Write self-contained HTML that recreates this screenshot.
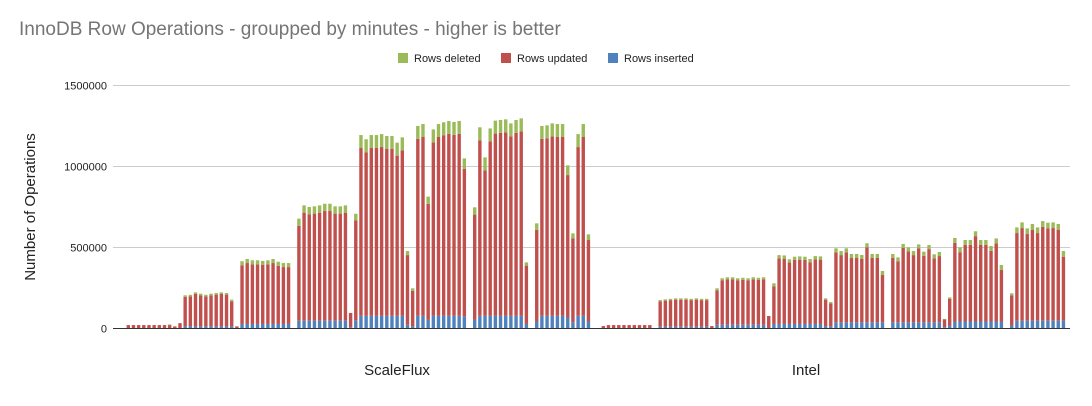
<!DOCTYPE html>
<html>
<head>
<meta charset="utf-8">
<style>
  html,body{margin:0;padding:0;background:#fff;}
  body{width:1092px;height:401px;overflow:hidden;font-family:"Liberation Sans",sans-serif;}
</style>
</head>
<body>
<svg id="chart" width="1092" height="401" viewBox="0 0 1092 401" xmlns="http://www.w3.org/2000/svg">
  <text x="19" y="35" font-family="Liberation Sans, sans-serif" font-size="19" fill="#757575">InnoDB Row Operations - groupped by minutes - higher is better</text>
  <g font-family="Liberation Sans, sans-serif" font-size="11" fill="#222">
    <g><rect x="398" y="53" width="10" height="10" fill="#9bbb59"/><text x="414" y="62">Rows deleted</text></g>
    <g><rect x="501" y="53" width="10" height="10" fill="#c0504d"/><text x="517" y="62">Rows updated</text></g>
    <g><rect x="608" y="53" width="10" height="10" fill="#4f81bd"/><text x="624" y="62">Rows inserted</text></g>
  </g>
  <g id="grid"></g>
  <g id="yticks" font-family="Liberation Sans, sans-serif" font-size="11" fill="#222" text-anchor="end"></g>
  <text transform="translate(35,207) rotate(-90)" text-anchor="middle" font-family="Liberation Sans, sans-serif" font-size="15" fill="#222">Number of Operations</text>
  <g id="bars"></g>
  <line x1="113" y1="328.5" x2="1070" y2="328.5" stroke="#333" stroke-width="1"/>
  <g id="xcats" font-family="Liberation Sans, sans-serif" font-size="15" fill="#222" text-anchor="middle"></g>
</svg>
<script>
const categories = ["ScaleFlux", "Intel"];
const yTicks = [0, 500000, 1000000, 1500000];
const yTickLabels = ["0", "500000", "1000000", "1500000"];

// values in thousands of operations
const sfInserted = [0,0,0,0,0,0,0,0,0,0,0,
  10,10,10,10,10,10,10,10,10,10,0,
  25,25,25,25,25,25,25,25,25,25,
  0,
  45,45,45,45,45,45,45,45,45,45,
  5,45,
  75,75,75,75,75,75,75,75,75,20,10,75,75,50,75,75,75,75,75,75,70,
  0,
  50,75,75,75,75,75,75,75,75,75,25,
  0,
  40,75,75,75,75,75,65,35,75,75,40];
const sfUpdated = [18,18,18,18,18,18,18,18,18,10,30,
  182,185,200,192,185,192,196,200,196,155,10,
  362,376,368,368,364,368,376,359,351,351,
  0,
  585,667,657,661,667,677,677,661,661,667,
  88,620,
  1036,1010,1036,1036,1042,1030,1030,989,1022,430,220,1092,1104,716,1071,1104,1115,1123,1117,1123,912,
  0,
  650,1084,898,1077,1125,1129,1133,1108,1129,1139,360,
  0,
  566,1092,1096,1108,1104,1104,879,519,1042,1104,503];
const sfDeleted = [0,0,0,0,0,0,0,0,4,0,0,
  10,10,10,10,10,10,10,10,10,10,0,
  25,25,25,25,25,25,25,25,25,25,
  0,
  45,45,45,45,45,45,45,45,45,45,
  0,40,
  80,80,80,80,80,80,80,80,80,25,15,80,80,45,80,80,80,80,80,80,65,
  0,
  45,80,80,80,80,80,80,80,80,80,20,
  0,
  40,80,80,80,80,80,60,30,80,80,35];

const inInserted = [0,0,0,0,0,0,0,0,0,0,0,
  8,8,8,8,8,8,8,8,8,8,
  0,
  20,20,20,20,20,20,20,20,20,20,
  0,
  25,25,25,25,25,25,25,25,25,25,
  10,10,
  35,35,35,35,35,35,35,35,35,35,
  0,
  35,35,35,35,35,35,35,35,35,35,
  5,15,
  40,40,40,40,40,40,40,40,40,40,
  0,
  15,45,45,45,45,45,45,45,45,45,45];
const inUpdated = [12,18,18,18,18,18,18,18,18,18,0,
  157,161,164,167,167,167,164,167,164,164,
  12,
  213,275,281,281,275,278,275,281,278,281,
  74,
  231,405,403,379,395,397,395,381,399,397,
  165,142,
  432,415,432,397,397,391,463,397,397,292,
  0,
  397,376,459,438,415,456,411,452,395,409,
  48,164,
  486,428,473,473,527,473,473,436,483,319,
  0,
  187,541,572,535,562,541,580,570,572,562,395];
const inDeleted = [0,0,0,0,0,0,0,0,0,0,0,
  8,8,8,8,8,8,8,8,8,8,
  0,
  12,12,12,12,12,12,12,12,12,12,
  0,
  20,20,20,20,20,20,20,20,20,20,
  8,8,
  25,25,25,25,25,25,25,25,25,25,
  0,
  25,25,25,25,25,25,25,25,25,25,
  3,10,
  30,30,30,30,30,30,30,30,30,30,
  0,
  12,35,35,35,35,35,35,35,35,35,35];

const SVGNS = "http://www.w3.org/2000/svg";
const plotLeft = 113, plotRight = 1070, baseY = 328;
const pxPerUnit = 162 / 1000000; // pixels per operation
function yScale(v) { return baseY - v * pxPerUnit; }      // v in operations
function hScale(k) { return k * 1000 * pxPerUnit; }       // k in thousands
const groupStart = [128.3, 603.3];
const pitch = 5.17, barW = 3.4;
function xScale(group, i) { return groupStart[group] + i * pitch - barW / 2; }

const grid = document.getElementById('grid');
const yt = document.getElementById('yticks');
yTicks.forEach((t, k) => {
  const y = Math.round(yScale(t)) + 0.5;
  if (t !== 0) {
    const ln = document.createElementNS(SVGNS, 'line');
    
    
    ln.setAttribute('x1', plotLeft); ln.setAttribute('x2', plotRight);
    ln.setAttribute('y1', y); ln.setAttribute('y2', y);
    ln.setAttribute('stroke', '#cccccc'); ln.setAttribute('stroke-width', '1');
    grid.appendChild(ln);
  }
  const tx = document.createElementNS(SVGNS, 'text');
  
  
  tx.setAttribute('x', 107); tx.setAttribute('y', y + 4);
  tx.textContent = yTickLabels[k];
  yt.appendChild(tx);
});

const bars = document.getElementById('bars');
const seriesSets = [
  [sfInserted, sfUpdated, sfDeleted],
  [inInserted, inUpdated, inDeleted]
];
const colors = ['#4f81bd', '#c0504d', '#9bbb59'];
const segNames = ['bar-inserted', 'bar-updated', 'bar-deleted'];
seriesSets.forEach((set, g) => {
  const n = set[1].length;
  for (let i = 0; i < n; i++) {
    let acc = 0;
    for (let s = 0; s < 3; s++) {
      const v = set[s][i] || 0;
      if (v <= 0) continue;
      const y0 = baseY - hScale(acc);
      const h = hScale(v);
      const r = document.createElementNS(SVGNS, 'rect');
      
      
      r.setAttribute('x', xScale(g, i).toFixed(2));
      r.setAttribute('y', (y0 - h).toFixed(2));
      r.setAttribute('width', barW);
      r.setAttribute('height', h.toFixed(2));
      r.setAttribute('fill', colors[s]);
      bars.appendChild(r);
      acc += v;
    }
  }
});

const xc = document.getElementById('xcats');
const catX = [397, 806];
categories.forEach((c, k) => {
  const t = document.createElementNS(SVGNS, 'text');
  
  
  t.setAttribute('x', catX[k]); t.setAttribute('y', 375);
  t.textContent = c;
  xc.appendChild(t);
});
</script>
</body>
</html>
